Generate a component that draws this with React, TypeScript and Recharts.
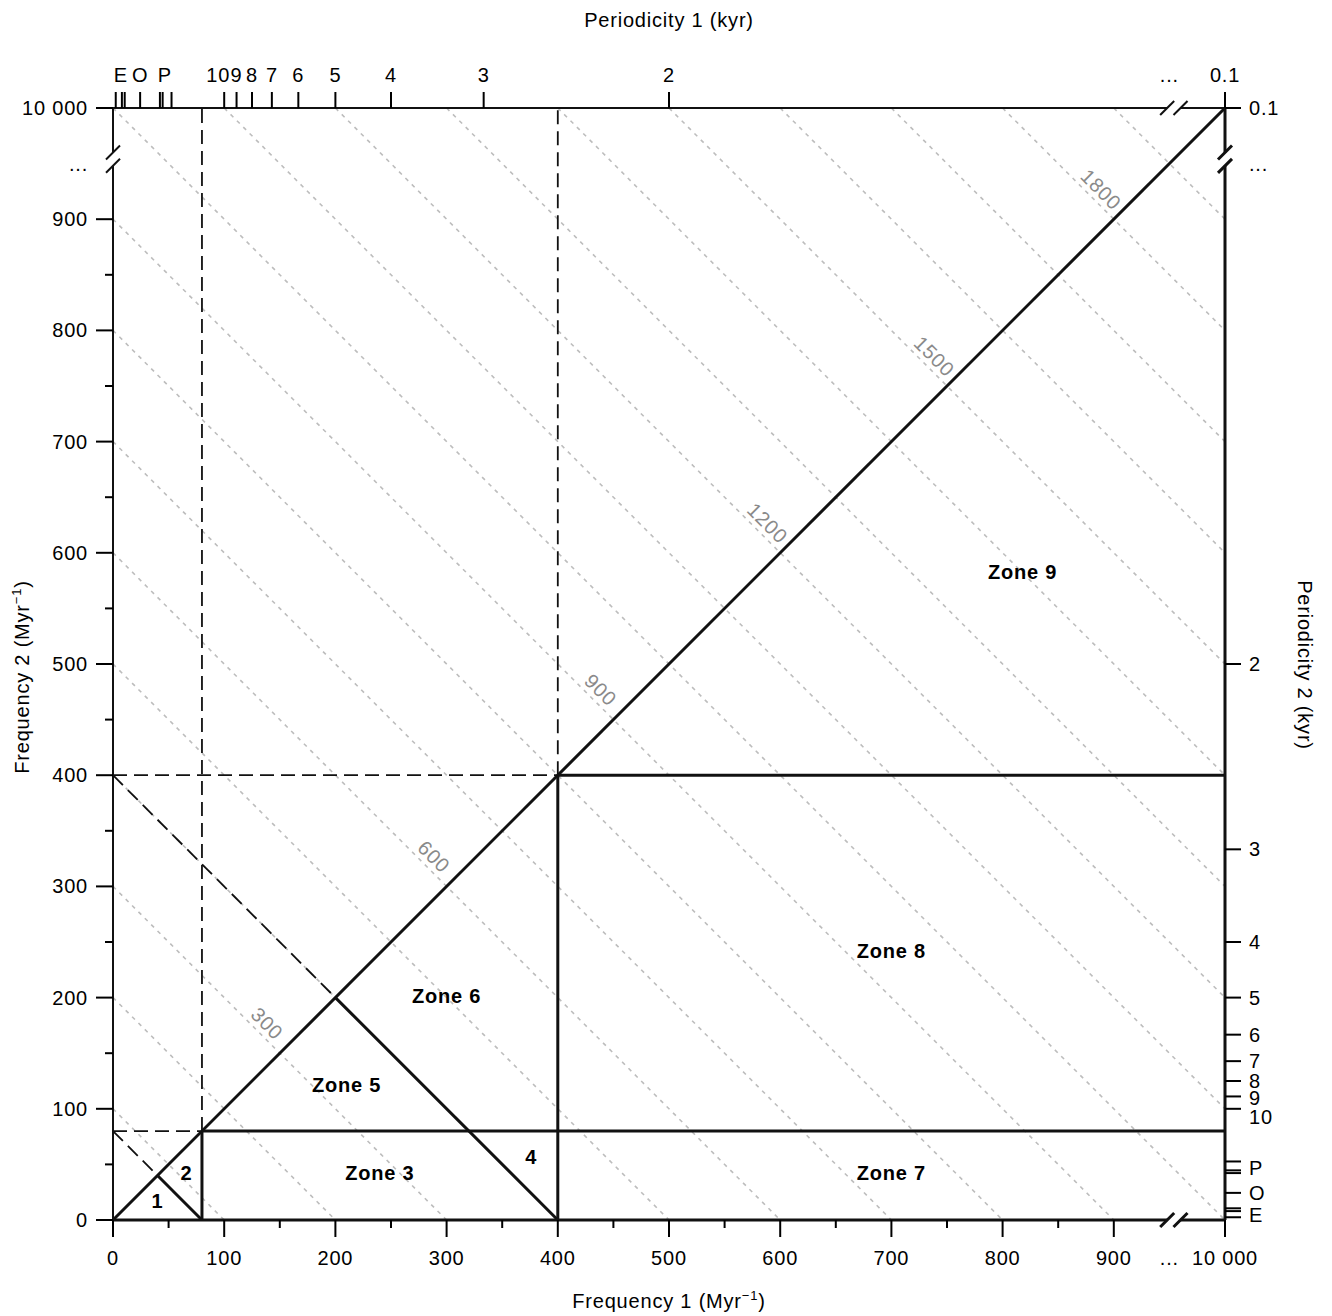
import React from 'react';
import { ComposedChart, XAxis, YAxis, ReferenceLine, Scatter, Label } from 'recharts';

const FONT = '"Liberation Sans", Arial, Helvetica, sans-serif';
const W = 1332;
const H = 1316;

// frequency axes in Myr^-1; the 1000 slot stands for 10 000 beyond the axis break
const freqMajor = [0, 100, 200, 300, 400, 500, 600, 700, 800, 900, 1000];
const freqMajorLabels = ['0', '100', '200', '300', '400', '500', '600', '700', '800', '900', '10 000'];
const freqMinor = [50, 150, 250, 350, 450, 550, 650, 750, 850];
const breakSlot = 950; // where the "..." sits
const breakEnds = [948, 960]; // the two slashes of each axis break

// periodicity axes in kyr (frequency = 1000 / period)
const periodMajor = [10, 9, 8, 7, 6, 5, 4, 3, 2];
const periodLast = 0.1; // sits on the 10 000 slot
const eccPeriods = [405, 125, 95];
const oblPeriods = [41];
const precPeriods = [23.7, 22.4, 19];

// zone boundaries (Myr^-1)
const cutLow = 80;
const cutHigh = 400;

// iso-sum lines f1 + f2 = c
const isoSums = [100, 200, 300, 400, 500, 600, 700, 800, 900, 1000, 1100, 1200, 1300, 1400, 1500, 1600, 1700, 1800, 1900];
const isoLabelSums = [300, 600, 900, 1200, 1500, 1800];

const zoneNames = ['1', '2', 'Zone 3', '4', 'Zone 5', 'Zone 6', 'Zone 7', 'Zone 8', 'Zone 9'];
const zoneF1 = [40, 66, 240, 376, 210, 300, 700, 700, 818];
const zoneF2 = [17, 42, 42, 57, 121, 201, 42, 242, 583];

type Pt = [number, number];
type Seg = [Pt, Pt];
type TickSpec = { v: number; len: number; label?: string; shift?: number };

const solidSegs: Seg[] = [
  [[0, 0], [1000, 1000]],
  [[cutLow / 2, cutLow / 2], [cutLow, 0]],
  [[cutHigh / 2, cutHigh / 2], [cutHigh, 0]],
  [[cutLow, 0], [cutLow, cutLow]],
  [[cutHigh, 0], [cutHigh, cutHigh]],
  [[cutLow, cutLow], [1000, cutLow]],
  [[cutHigh, cutHigh], [1000, cutHigh]],
  [[0, 0], [breakEnds[0], 0]],
  [[breakEnds[1], 0], [1000, 0]],
  [[1000, 0], [1000, breakEnds[0]]],
  [[1000, breakEnds[1]], [1000, 1000]],
];

const dashedSegs: Seg[] = [
  [[cutLow, cutLow], [cutLow, 1000]],
  [[cutHigh, cutHigh], [cutHigh, 1000]],
  [[0, cutLow], [cutLow, cutLow]],
  [[0, cutHigh], [cutHigh, cutHigh]],
  [[0, cutLow], [cutLow / 2, cutLow / 2]],
  [[0, cutHigh], [cutHigh / 2, cutHigh / 2]],
];

const thinSegs: Seg[] = [
  [[0, 0], [0, breakEnds[0]]],
  [[0, breakEnds[1]], [0, 1000]],
  [[0, 1000], [breakEnds[0], 1000]],
  [[breakEnds[1], 1000], [1000, 1000]],
];

const sl = 6.3;
const slash = (cx: number, cy: number): Seg => [[cx - sl, cy - sl], [cx + sl, cy + sl]];
const thinSlashes: Seg[] = breakEnds.flatMap((b) => [slash(0, b), slash(b, 1000)]);
const thickSlashes: Seg[] = breakEnds.flatMap((b) => [slash(b, 0), slash(1000, b)]);

const isoSegs: Seg[] = isoSums.map((c) =>
  c <= 1000 ? [[0, c], [c, 0]] : [[c - 1000, 1000], [1000, c - 1000]]
);

const zoneData = zoneNames.map((name, i) => ({ x: zoneF1[i], y: zoneF2[i], text: name }));
const isoLabelData = isoLabelSums.map((c) => ({ x: c / 2, y: c / 2, text: String(c) }));

// tick specs
const freqSpec: TickSpec[] = [
  ...freqMajor.map((v, i) => ({ v, len: 17, label: freqMajorLabels[i] })),
  ...freqMinor.map((v) => ({ v, len: 8 })),
  { v: breakSlot, len: 0, label: '...' },
];

const groups: [string, number[]][] = [
  ['E', eccPeriods],
  ['O', oblPeriods],
  ['P', precPeriods],
];

const periodSpec = (labelShift: Record<string, number>): TickSpec[] => [
  ...periodMajor.map((p) => ({ v: 1000 / p, len: 16, label: String(p), shift: labelShift[String(p)] || 0 })),
  ...groups.flatMap(([, ps]) => ps.map((p) => ({ v: 1000 / p, len: 16 }))),
  ...groups.map(([name, ps]) => ({
    v: ps.reduce((s, p) => s + 1000 / p, 0) / ps.length + 0.001,
    len: 0,
    label: name,
    shift: labelShift[name] || 0,
  })),
  { v: breakSlot, len: 0, label: '...' },
  { v: 1000, len: 16, label: String(periodLast) },
];

const topSpec = periodSpec({ '10': -6 });
const rightSpec = periodSpec({ '10': 8, '9': 2, E: 3 });

const findSpec = (spec: TickSpec[], value: number) =>
  spec.find((s) => Math.abs(s.v - value) < 1e-6) || { v: value, len: 0 };

const textStyle = { fontFamily: FONT, fontSize: 20, letterSpacing: 0.8, fill: '#000' };

const BottomTick = (props: any) => {
  const { x, y, payload } = props;
  const s = findSpec(freqSpec, payload.value);
  return (
    <g>
      {s.len > 0 && <line x1={x} y1={y} x2={x} y2={y + s.len} stroke="#000" strokeWidth={2} />}
      {s.label && (
        <text x={x} y={y + 45} textAnchor="middle" style={textStyle}>
          {s.label}
        </text>
      )}
    </g>
  );
};

const LeftTick = (props: any) => {
  const { x, y, payload } = props;
  const s = findSpec(freqSpec, payload.value);
  return (
    <g>
      {s.len > 0 && <line x1={x - s.len} y1={y} x2={x} y2={y} stroke="#000" strokeWidth={2} />}
      {s.label && (
        <text x={x - 25} y={y + 7} textAnchor="end" style={textStyle}>
          {s.label}
        </text>
      )}
    </g>
  );
};

const TopTick = (props: any) => {
  const { x, y, payload } = props;
  const s = findSpec(topSpec, payload.value);
  return (
    <g>
      {s.len > 0 && <line x1={x} y1={y - s.len} x2={x} y2={y} stroke="#000" strokeWidth={2} />}
      {s.label && (
        <text x={x + (s.shift || 0)} y={y - 26} textAnchor="middle" style={textStyle}>
          {s.label}
        </text>
      )}
    </g>
  );
};

const RightTick = (props: any) => {
  const { x, y, payload } = props;
  const s = findSpec(rightSpec, payload.value);
  return (
    <g>
      {s.len > 0 && <line x1={x} y1={y} x2={x + s.len} y2={y} stroke="#000" strokeWidth={2} />}
      {s.label && (
        <text x={x + 24} y={y + 7 + (s.shift || 0)} textAnchor="start" style={textStyle}>
          {s.label}
        </text>
      )}
    </g>
  );
};

const Minus1 = () => (
  <>
    <tspan dy={-8} fontSize={13}>
      −1
    </tspan>
    <tspan dy={8}>)</tspan>
  </>
);

const segLines = (segs: Seg[], keyPrefix: string, stroke: string, width: number, dash?: string) =>
  segs.map((s, i) => (
    <ReferenceLine
      key={`${keyPrefix}-${i}`}
      segment={[
        { x: s[0][0], y: s[0][1] },
        { x: s[1][0], y: s[1][1] },
      ]}
      stroke={stroke}
      strokeWidth={width}
      strokeDasharray={dash}
      ifOverflow="visible"
    />
  ));

export default function App() {
  return (
    <div style={{ position: 'absolute', left: 0, top: 0, width: W, height: H, background: '#fff' }}>
      <ComposedChart width={W} height={H} margin={{ top: 0, right: 0, bottom: 0, left: 0 }}>
        <XAxis
          dataKey="x"
          type="number"
          domain={[0, 1000]}
          allowDataOverflow
          orientation="bottom"
          height={96}
          ticks={freqSpec.map((s) => s.v)}
          interval={0}
          tick={<BottomTick />}
          tickLine={false}
          axisLine={false}
          tickSize={0}
          tickMargin={0}
        >
          <Label
            content={(p: any) => (
              <text x={p.viewBox.x + p.viewBox.width / 2} y={p.viewBox.y + 88} textAnchor="middle" style={textStyle}>
                Frequency 1 (Myr
                <Minus1 />
              </text>
            )}
          />
        </XAxis>
        <XAxis
          xAxisId="top"
          dataKey="x"
          type="number"
          domain={[0, 1000]}
          allowDataOverflow
          orientation="top"
          height={108}
          ticks={topSpec.map((s) => s.v)}
          interval={0}
          tick={<TopTick />}
          tickLine={false}
          axisLine={false}
          tickSize={0}
          tickMargin={0}
        >
          <Label
            content={(p: any) => (
              <text x={p.viewBox.x + p.viewBox.width / 2} y={p.viewBox.y + 27} textAnchor="middle" style={textStyle}>
                Periodicity 1 (kyr)
              </text>
            )}
          />
        </XAxis>
        <YAxis
          dataKey="y"
          type="number"
          domain={[0, 1000]}
          allowDataOverflow
          orientation="left"
          width={113}
          ticks={freqSpec.map((s) => s.v)}
          interval={0}
          tick={<LeftTick />}
          tickLine={false}
          axisLine={false}
          tickSize={0}
          tickMargin={0}
        >
          <Label
            content={(p: any) => {
              const cx = p.viewBox.x + 29;
              const cy = p.viewBox.y + p.viewBox.height / 2 + 13;
              return (
                <text x={cx} y={cy} textAnchor="middle" transform={`rotate(-90 ${cx} ${cy})`} style={textStyle}>
                  Frequency 2 (Myr
                  <Minus1 />
                </text>
              );
            }}
          />
        </YAxis>
        <YAxis
          yAxisId="right"
          dataKey="y"
          type="number"
          domain={[0, 1000]}
          allowDataOverflow
          orientation="right"
          width={107}
          ticks={rightSpec.map((s) => s.v)}
          interval={0}
          tick={<RightTick />}
          tickLine={false}
          axisLine={false}
          tickSize={0}
          tickMargin={0}
        >
          <Label
            content={(p: any) => {
              const cx = p.viewBox.x + 73;
              const cy = p.viewBox.y + p.viewBox.height / 2 + 1;
              return (
                <text x={cx} y={cy} textAnchor="middle" transform={`rotate(90 ${cx} ${cy})`} style={textStyle}>
                  Periodicity 2 (kyr)
                </text>
              );
            }}
          />
        </YAxis>

        {segLines(isoSegs, 'iso', '#bdbdbd', 1.6, '4 5')}
        {segLines(dashedSegs, 'dash', '#111', 1.8, '14 7')}
        {segLines(thinSegs, 'thin', '#111', 2)}
        {segLines(thinSlashes, 'tsl', '#111', 2)}
        {segLines(solidSegs, 'solid', '#111', 3)}
        {segLines(thickSlashes, 'ksl', '#111', 3)}

        <Scatter
          xAxisId="top"
          yAxisId="right"
          data={isoLabelData}
          isAnimationActive={false}
          shape={(p: any) => (
            <g transform={`translate(${p.cx} ${p.cy}) rotate(45)`}>
              <text
                x={-30}
                y={-12}
                textAnchor="middle"
                dominantBaseline="central"
                style={{ ...textStyle, fill: '#8a8a8a' }}
              >
                {p.payload.text}
              </text>
            </g>
          )}
        />
        <Scatter
          data={zoneData}
          isAnimationActive={false}
          shape={(p: any) => (
            <text
              x={p.cx}
              y={p.cy + 7}
              textAnchor="middle"
              style={{ ...textStyle, fontWeight: 'bold' }}
            >
              {p.payload.text}
            </text>
          )}
        />
      </ComposedChart>
    </div>
  );
}
